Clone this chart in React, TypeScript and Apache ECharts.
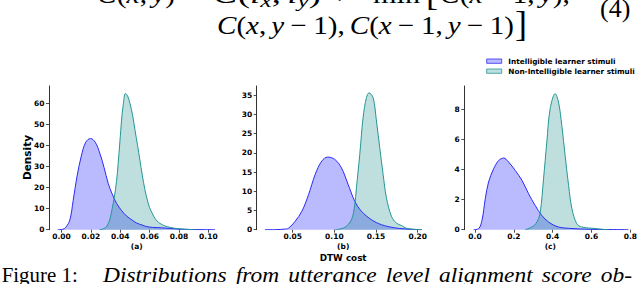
import React, { useEffect, useRef } from 'react';
import * as echarts from 'echarts';

// ---------- data ----------
const seriesNames = ['Intelligible learner stimuli', 'Non-Intelligible learner stimuli'];

const xTicksA = [0, 0.02, 0.04, 0.06, 0.08, 0.1];
const yTicksA = [0, 10, 20, 30, 40, 50, 60];
const xTicksB = [0.05, 0.1, 0.15, 0.2];
const yTicksB = [0, 5, 10, 15, 20, 25, 30, 35];
const xTicksC = [0, 0.2, 0.4, 0.6, 0.8];
const yTicksC = [0, 2, 4, 6, 8];

const intelA = [
  [-0.0025, 0], [0.001, 0.2], [0.003, 1.2], [0.0057, 4.6], [0.008, 14], [0.0105, 25], [0.0135, 35],
  [0.0165, 41.5], [0.0198, 43.3], [0.023, 41.5], [0.0261, 36.3], [0.029, 29.5], [0.0318, 22],
  [0.0345, 17], [0.0375, 12.5], [0.041, 9], [0.0443, 6.5], [0.048, 4.6], [0.0511, 3.2], [0.055, 2.2],
  [0.058, 1.5], [0.062, 1.1], [0.068, 0.9], [0.074, 0.6], [0.08, 0.3], [0.088, 0.1], [0.095, 0.03], [0.1046, 0],
];
const nonIntelA = [
  [0.026, 0], [0.029, 0.5], [0.031, 1.8], [0.033, 5], [0.0345, 10], [0.036, 15.5], [0.0375, 23],
  [0.0386, 31.5], [0.0398, 42], [0.0409, 52], [0.042, 59], [0.0436, 64.7], [0.045, 63.5], [0.0466, 60],
  [0.0485, 54], [0.05, 47.5], [0.0518, 40], [0.0534, 33], [0.055, 26], [0.0568, 19], [0.0585, 14],
  [0.06, 10.5], [0.062, 7.5], [0.0636, 5.4], [0.065, 4.2], [0.067, 3], [0.0704, 1.8], [0.074, 1.1],
  [0.077, 0.7], [0.0806, 0.4], [0.084, 0.2], [0.088, 0.05], [0.091, 0],
];
const intelB = [
  [0.0167, 0], [0.03, 0.02], [0.04, 0.15], [0.045, 0.4], [0.053, 2.2], [0.061, 4.8], [0.069, 9.1],
  [0.077, 14.4], [0.085, 17.9], [0.092, 18.9], [0.1005, 18.3], [0.1085, 16.1], [0.1165, 11.8],
  [0.1245, 7.4], [0.1325, 4.8], [0.1445, 2.6], [0.1565, 1.3], [0.172, 0.5], [0.185, 0.2], [0.195, 0.07], [0.2049, 0],
];
const nonIntelB = [
  [0.101, 0], [0.1125, 0.6], [0.1205, 2.6], [0.1245, 6.5], [0.1265, 10.9], [0.1305, 19.6], [0.1345, 29.2],
  [0.1385, 34.4], [0.1415, 35.6], [0.1465, 34.4], [0.1505, 28.3], [0.1545, 21.3], [0.1585, 14.4],
  [0.1625, 8.3], [0.1685, 3.5], [0.1745, 1.7], [0.1805, 1.1], [0.186, 0.4], [0.196, 0.1], [0.205, 0],
];
const intelC = [
  [-0.007, 0], [0.019, 0.07], [0.036, 0.62], [0.053, 2.06], [0.07, 3.17], [0.096, 4.05], [0.122, 4.6],
  [0.148, 4.76], [0.173, 4.5], [0.207, 3.94], [0.242, 3.28], [0.276, 2.39], [0.31, 1.61], [0.344, 0.95],
  [0.379, 0.51], [0.43, 0.18], [0.499, 0.08], [0.586, 0.03], [0.7, 0.01], [0.79, 0],
];
const nonIntelC = [
  [0.259, 0], [0.293, 0.18], [0.319, 0.51], [0.336, 1.17], [0.353, 3.39], [0.37, 5.83], [0.387, 8.04],
  [0.413, 9.04], [0.43, 8.48], [0.447, 6.93], [0.464, 4.94], [0.482, 2.94], [0.499, 1.4], [0.524, 0.4],
  [0.55, 0.18], [0.618, 0.08], [0.66, 0.02], [0.69, 0],
];

const panelLabels = ['(a)', '(b)', '(c)'];
const yAxisTitle = 'Density';
const xAxisTitle = 'DTW cost';
const captionLabel = 'Figure 1:';
const captionWords = ['Distributions', 'from', 'utterance', 'level', 'alignment', 'score', 'ob-'];

// ---------- text helpers ----------
let mctx: CanvasRenderingContext2D | null = null;
function measure(text: string, font: string): number {
  if (!mctx) mctx = document.createElement('canvas').getContext('2d');
  if (!mctx) return text.length * 10;
  mctx.font = font;
  return mctx.measureText(text).width;
}
const SERIF = '"Liberation Serif", "Times New Roman", serif';
const SANS = '"DejaVu Sans", sans-serif';

function txt(x: number, y: number, text: string, font: string, align = 'left', extra: any = {}) {
  return {
    type: 'text', x, y, silent: true, ...extra,
    style: { text, font, fill: '#000', textAlign: align, align, textVerticalAlign: 'middle', verticalAlign: 'middle' },
  };
}

type Tok = [string | number, string];
function run(toks: Tok[], x0: number, x1: number, yMid: number, size: number) {
  const items = toks.map(([t, k]) => {
    if (k === 's') return { w: (t as number) * size } as any;
    const s = k === 'b' ? size * 0.7 : size;
    const font = `${k === 'r' ? '' : 'italic '}${s}px ${SERIF}`;
    return { t: t as string, font, w: measure(t as string, font), dy: k === 'b' ? size * 0.25 : 0 };
  });
  const W = items.reduce((a: number, b: any) => a + b.w, 0);
  const k = (x1 - x0) / W;
  let pos = 0;
  const out: any[] = [];
  items.forEach((it: any) => {
    if (it.t !== undefined) out.push(txt(x0 + pos * k, yMid + it.dy, it.t, it.font, 'left', { scaleX: k }));
    pos += it.w;
  });
  return out;
}

const eqLine2: Tok[] = [
  ['C', 'i'], ['(', 'r'], ['x', 'i'], [',', 'r'], [0.17, 's'], ['y', 'i'], [0.22, 's'], ['\u2212', 'r'], [0.22, 's'],
  ['1', 'r'], [')', 'r'], [',', 'r'], [0.17, 's'], ['C', 'i'], ['(', 'r'], ['x', 'i'], [0.22, 's'], ['\u2212', 'r'],
  [0.22, 's'], ['1', 'r'], [',', 'r'], [0.17, 's'], ['y', 'i'], [0.22, 's'], ['\u2212', 'r'], [0.22, 's'], ['1', 'r'], [')', 'r'],
];
const eqLine1a: Tok[] = [['C', 'i'], ['(', 'r'], ['x', 'i'], [',', 'r'], [0.17, 's'], ['y', 'i'], [')', 'r']];
const eqLine1b: Tok[] = [
  ['=', 'r'], [0.28, 's'], ['C', 'i'], ['(', 'r'], ['i', 'i'], ['x', 'b'], [',', 'r'], [0.17, 's'], ['i', 'i'], ['y', 'b'],
  [')', 'r'], [0.22, 's'], ['+', 'r'],
];
const eqLine1c: Tok[] = [['min', 'r']];
const eqLine1e: Tok[] = [
  ['C', 'i'], ['(', 'r'], ['x', 'i'], [0.22, 's'], ['\u2212', 'r'], [0.22, 's'], ['1', 'r'], [',', 'r'], [0.17, 's'],
  ['y', 'i'], [')', 'r'], [',', 'r'],
];

function buildGraphics() {
  const els: any[] = [];
  const F = 26;
  // equation line 1 (mostly cut off at the top)
  const y1 = 3 - 0.34 * F;
  els.push(...run(eqLine1a, 97, 175, y1, F));
  els.push(...run(eqLine1b, 182, 350, y1, F));
  els.push(...run(eqLine1c, 373, 420, y1, F));
  els.push(txt(426, 5.5 - 0.34 * 36, '[', `36px ${SERIF}`));
  els.push(...run(eqLine1e, 440, 570, y1, F));
  // equation line 2
  els.push(...run(eqLine2, 217, 514, 34 - 0.34 * F, F));
  els.push(txt(515, 36.5 - 0.34 * 36, ']', `36px ${SERIF}`));
  els.push(txt(600, 17 - 0.34 * F, '(4)', `${F}px ${SERIF}`));
  // caption
  const CF = 22;
  const cy = 282.5 - 0.34 * CF;
  els.push(txt(1.7, cy, captionLabel, `${CF}px ${SERIF}`, 'left', { scaleX: 0.95 }));
  const cfont = `italic ${CF}px ${SERIF}`;
  const widths = captionWords.map((w) => measure(w, cfont));
  const total = widths.reduce((a, b) => a + b, 0);
  const gapTarget = 9;
  const sx = (632 - 103 - gapTarget * (captionWords.length - 1)) / total;
  let cx = 103;
  captionWords.forEach((w, i) => {
    els.push(txt(cx, cy, w, cfont, 'left', { scaleX: sx }));
    cx += widths[i] * sx + gapTarget;
  });
  // axis titles
  els.push(txt(26.7, 157.5, yAxisTitle, `bold 10.5px ${SANS}`, 'center', { rotation: Math.PI / 2 }));
  const centers = [136.7, 343.2, 550.3];
  panelLabels.forEach((l, i) => els.push(txt(centers[i], 246, l, `bold 7.5px ${SANS}`, 'center')));
  els.push(txt(343.2, 257.5, xAxisTitle, `bold 8.8px ${SANS}`, 'center'));
  // legend
  const fills = ['rgba(0,0,255,0.27)', 'rgba(0,128,128,0.25)'];
  const strokes = ['#2b2bf5', '#259595'];
  [59, 69].forEach((y, i) => {
    els.push({ type: 'rect', silent: true, shape: { x: 486.7, y, width: 15, height: 4.3 },
      style: { fill: fills[i], stroke: strokes[i], lineWidth: 0.8 } });
    els.push(txt(508.3, y + 2.2, seriesNames[i], `bold 7.3px ${SANS}`));
  });
  return els;
}

const labelStyle = { color: '#000', fontFamily: 'DejaVu Sans', fontWeight: 'bold' as const, fontSize: 7.5 };
const tickLine = { color: '#222', width: 0.8 };

function xAxisFor(i: number, min: number, max: number, ticks: number[], digits: number) {
  return {
    gridIndex: i, type: 'value', min, max,
    axisLine: { show: false, onZero: false },
    axisTick: { show: true, length: 3, lineStyle: tickLine, customValues: ticks },
    axisLabel: { ...labelStyle, margin: 2.5, customValues: ticks, formatter: (v: number) => v.toFixed(digits) },
    splitLine: { show: false },
  };
}
function yAxisFor(i: number, max: number, ticks: number[]) {
  return {
    gridIndex: i, type: 'value', min: 0, max,
    axisLine: { show: true, onZero: false, lineStyle: { color: '#333', width: 1 } },
    axisTick: { show: true, length: 3, lineStyle: tickLine, customValues: ticks },
    axisLabel: { ...labelStyle, margin: 4.5, customValues: ticks, formatter: (v: number) => String(v) },
    splitLine: { show: false },
  };
}
function kde(i: number, name: string, data: number[][], line: string, fill: string) {
  return {
    type: 'line', name, xAxisIndex: i, yAxisIndex: i, data, smooth: 0.35, symbol: 'none',
    lineStyle: { color: line, width: 1 }, areaStyle: { color: fill, opacity: 1 }, silent: true,
  };
}

export default function App() {
  const ref = useRef<HTMLDivElement>(null);
  useEffect(() => {
    if (!ref.current) return;
    document.body.style.margin = '0';
    const chart = echarts.init(ref.current, null, { renderer: 'svg' });
    const blueL = '#2b2bf5', blueF = 'rgba(0,0,255,0.27)';
    const tealL = '#259595', tealF = 'rgba(0,128,128,0.25)';
    chart.setOption({
      animation: false,
      backgroundColor: '#fff',
      grid: [
        { left: 49, top: 86, width: 175.5, height: 143.7 },
        { left: 256.7, top: 86, width: 172.9, height: 143.7 },
        { left: 464.3, top: 86, width: 172.1, height: 143.7 },
      ],
      xAxis: [
        xAxisFor(0, -0.0085, 0.111, xTicksA, 2),
        xAxisFor(1, 0.0068, 0.2143, xTicksB, 2),
        xAxisFor(2, -0.055, 0.83, xTicksC, 1),
      ],
      yAxis: [yAxisFor(0, 68.2, yTicksA), yAxisFor(1, 37.4, yTicksB), yAxisFor(2, 9.55, yTicksC)],
      series: [
        kde(0, seriesNames[0], intelA, blueL, blueF),
        kde(0, seriesNames[1], nonIntelA, tealL, tealF),
        kde(1, seriesNames[0], intelB, blueL, blueF),
        kde(1, seriesNames[1], nonIntelB, tealL, tealF),
        kde(2, seriesNames[0], intelC, blueL, blueF),
        kde(2, seriesNames[1], nonIntelC, tealL, tealF),
      ],
      graphic: { elements: buildGraphics() },
    });
    return () => chart.dispose();
  }, []);
  return <div ref={ref} style={{ position: 'fixed', left: 0, top: 0, width: 640, height: 284 }} />;
}
